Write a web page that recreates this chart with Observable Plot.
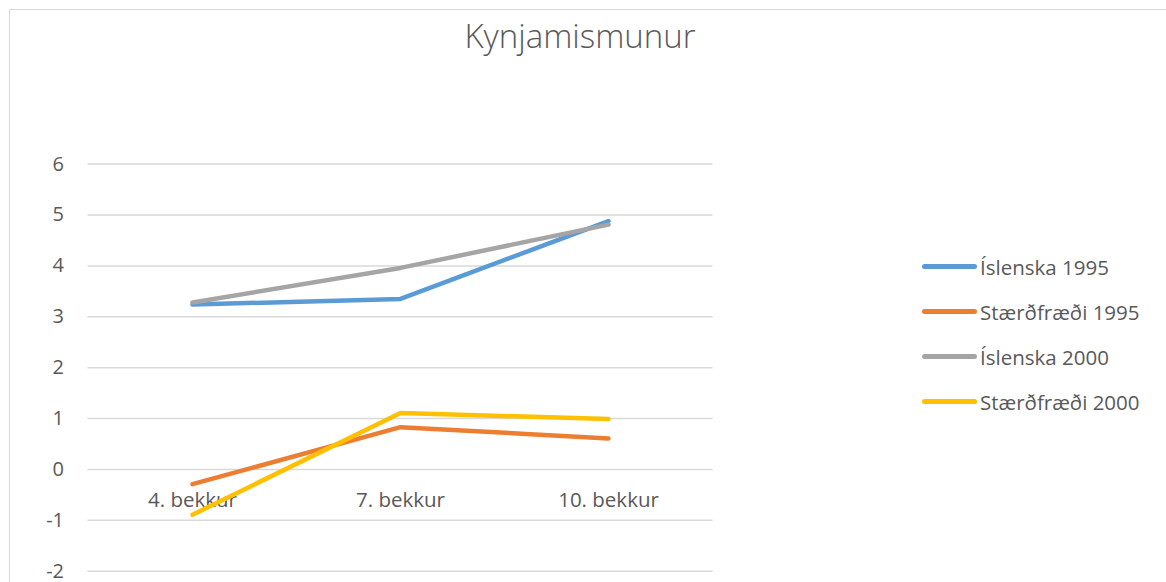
<!DOCTYPE html>
<html>
<head>
<meta charset="utf-8">
<script src="https://cdn.jsdelivr.net/npm/d3@7"></script>
<script src="https://cdn.jsdelivr.net/npm/@observablehq/plot@0.6"></script>
<style>
  html, body { margin: 0; padding: 0; background: #fff; }
  #wrap { position: relative; width: 1166px; height: 582px; overflow: hidden; font-family: "Open Sans", sans-serif; }
  #frame { position: absolute; left: 9px; top: 9px; width: 1200px; height: 700px; border: 1.5px solid #d9d9d9; box-sizing: border-box; }
  #title { position: absolute; left: 0; width: 1160px; top: 19px; text-align: center; font-size: 33px; line-height: 33px; font-weight: 300; color: #595959; }
  #legend { position: absolute; left: 922px; top: 244px; }
  .item { display: flex; align-items: center; height: 45px; font-size: 20.5px; color: #595959; }
  .sw { width: 55px; height: 5px; border-radius: 3px; margin-right: 3px; }
  #chart { position: absolute; left: 0; top: 0; }
  #chart svg { overflow: visible; }
</style>
</head>
<body>
<div id="wrap">
  <div id="frame"></div>
  <div id="chart"></div>
  <div id="title">Kynjamismunur</div>
  <div id="legend"></div>
</div>
<script>
const categories = ["4. bekkur", "7. bekkur", "10. bekkur"];
const seriesNames = ["Íslenska 1995", "Stærðfræði 1995", "Íslenska 2000", "Stærðfræði 2000"];
const islenska1995 = [3.24, 3.35, 4.88];
const staerdfraedi1995 = [-0.29, 0.83, 0.61];
const islenska2000 = [3.28, 3.96, 4.81];
const staerdfraedi2000 = [-0.89, 1.11, 0.99];
const colors = ["#5b9bd5", "#ed7d31", "#a5a5a5", "#ffc000"];
const yTicks = [-2, -1, 0, 1, 2, 3, 4, 5, 6];

const seriesValues = [islenska1995, staerdfraedi1995, islenska2000, staerdfraedi2000];
const data = [];
seriesNames.forEach((s, i) => {
  categories.forEach((c, j) => data.push({series: s, cat: c, value: seriesValues[i][j]}));
});

const chart = Plot.plot({
  width: 1166,
  height: 582,
  marginLeft: 87.5,
  marginRight: 453.5,
  marginTop: 163.6,
  marginBottom: 11.3,
  style: {fontFamily: "'Open Sans', sans-serif", fontSize: "20px", color: "#595959", background: "transparent"},
  x: {type: "point", domain: categories, padding: 0.5, axis: null},
  y: {domain: [-2, 6], ticks: yTicks, axis: null},
  color: {domain: seriesNames, range: colors},
  marks: [
    Plot.ruleY(yTicks, {stroke: "#d9d9d9", strokeWidth: 1.5}),
    Plot.axisY({ticks: yTicks, tickSize: 0, tickPadding: 24, fontSize: 20, fill: "#595959", label: null, tickFormat: d => String(d)}),
    Plot.text(categories, {x: d => d, y: () => 0, dy: 31, fontSize: 20.5, fill: "#595959", lineAnchor: "middle"}),
    Plot.line(data, {x: "cat", y: "value", z: "series", stroke: "series", strokeWidth: 4.5, strokeLinecap: "round", strokeLinejoin: "round"})
  ]
});
document.getElementById("chart").appendChild(chart);

const legend = document.getElementById("legend");
seriesNames.forEach((s, i) => {
  const item = document.createElement("div");
  item.className = "item";
  const sw = document.createElement("div");
  sw.className = "sw";
  sw.style.background = colors[i];
  const t = document.createElement("span");
  t.textContent = s;
  item.appendChild(sw);
  item.appendChild(t);
  legend.appendChild(item);
});
</script>
</body>
</html>
